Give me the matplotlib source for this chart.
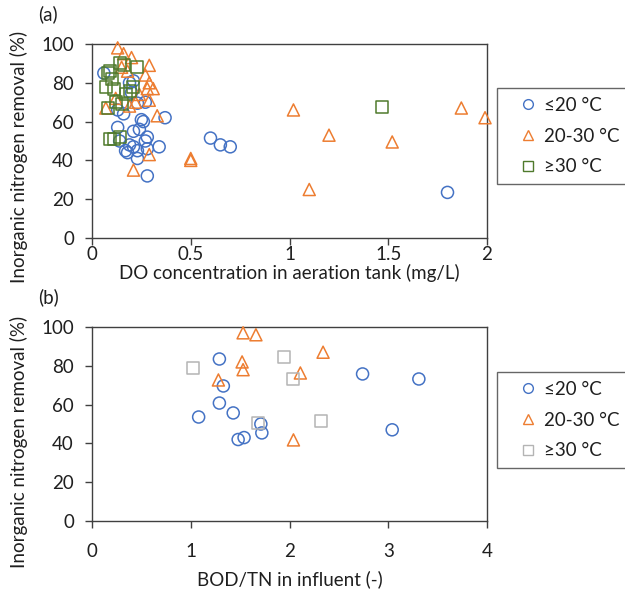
import matplotlib
matplotlib.use("Agg")
import matplotlib.pyplot as plt
from matplotlib.lines import Line2D
from matplotlib.legend_handler import HandlerLine2D

plt.rcParams['font.family'] = ['Lato', 'DejaVu Sans']

# ---- Panel (a): DO concentration vs inorganic nitrogen removal ----
do_low_x = [0.06, 0.19, 0.20, 0.27, 0.13, 0.16, 0.37, 0.25, 0.13, 0.24, 0.21, 0.28,
            0.14, 0.27, 0.19, 0.21, 0.34, 0.28, 0.23, 0.18, 0.23, 0.28, 0.60, 0.65,
            0.70, 1.80, 0.21, 0.23, 0.26, 0.17]
do_low_y = [85, 80, 75, 70, 66, 64, 62, 61, 57, 56, 55, 52,
            50, 50, 48, 47, 47, 46, 45, 44, 41, 32, 51.5, 48,
            47, 23.5, 81, 69.5, 60, 45]

do_mid_x = [0.13, 0.16, 0.20, 0.29, 0.27, 0.29, 0.28, 0.31, 0.29, 0.07, 0.19, 0.33,
            0.29, 0.21, 0.50, 0.50, 1.02, 1.20, 1.10, 1.52, 1.87, 1.99, 0.15, 0.18,
            0.24, 0.22, 0.12]
do_mid_y = [98, 95, 93, 89, 84, 80, 77, 77, 71, 67, 68, 63,
            43, 35, 41, 40, 66, 53, 25, 49.5, 67, 62, 88, 86,
            74, 70, 72]

do_high_x = [0.08, 0.09, 0.14, 0.16, 0.23, 0.10, 0.07, 0.11, 0.19, 0.21, 0.17, 0.12,
             0.15, 0.08, 0.09, 0.11, 0.14, 1.47]
do_high_y = [85, 86, 90, 89, 88, 82, 78, 77, 76, 78, 74, 70,
             69, 67, 51, 51, 52, 67.5]

# ---- Panel (b): influent BOD/TN vs inorganic nitrogen removal ----
bod_low_x = [1.29, 1.33, 1.29, 1.08, 1.43, 1.48, 1.54, 1.71, 1.72, 2.74, 3.31, 3.04]
bod_low_y = [83.5, 69.6, 60.8, 53.6, 55.7, 42.0, 43.0, 50.0, 45.4, 75.8, 73.2, 47.0]

bod_mid_x = [1.53, 1.66, 2.34, 1.52, 1.53, 1.28, 2.11, 2.04]
bod_mid_y = [97.0, 96.0, 87.0, 82.0, 78.0, 72.7, 76.3, 41.8]

bod_high_x = [1.02, 1.94, 2.04, 1.68, 2.32]
bod_high_y = [79.0, 84.5, 73.0, 50.5, 51.5]

groups = ['≤20 °C', '20-30 °C', '≥30 °C']

BLUE = '#4472C4'
ORANGE = '#ED7D31'
GREEN = '#4F7A2C'
GREY = '#B4B4B4'
TEXT = '#1F1F1F'
SPINE = '#404040'

W, H = 625, 591
fig = plt.figure(figsize=(W / 100, H / 100), dpi=100)

def px_rect(x0, y0, x1, y1):
    return [x0 / W, 1 - y1 / H, (x1 - x0) / W, (y1 - y0) / H]

ax_a = fig.add_axes(px_rect(92, 44, 487, 238))
ax_b = fig.add_axes(px_rect(92, 327, 487, 521))

ms = 75
lw = 1.1
FS = 13.5

def draw(ax, xs, ys, marker, color):
    ax.scatter(xs, ys, s=ms, marker=marker, facecolors='none',
               edgecolors=color, linewidths=lw, clip_on=False, zorder=3)

draw(ax_a, do_low_x, do_low_y, 'o', BLUE)
draw(ax_a, do_mid_x, do_mid_y, '^', ORANGE)
draw(ax_a, do_high_x, do_high_y, 's', GREEN)

draw(ax_b, bod_low_x, bod_low_y, 'o', BLUE)
draw(ax_b, bod_mid_x, bod_mid_y, '^', ORANGE)
draw(ax_b, bod_high_x, bod_high_y, 's', GREY)

for ax in (ax_a, ax_b):
    ax.set_ylim(0, 100)
    ax.set_yticks([0, 20, 40, 60, 80, 100])
    for sp in ax.spines.values():
        sp.set_color(SPINE)
        sp.set_linewidth(1.0)
    ax.tick_params(axis='both', direction='out', length=5, width=1.0,
                   color=SPINE, labelcolor=TEXT, labelsize=FS)
    ax.tick_params(axis='y', pad=8)
    ax.set_ylabel('Inorganic nitrogen removal (%)', fontsize=FS, color=TEXT)

ax_a.set_xlim(0, 2)
ax_a.set_xticks([0, 0.5, 1, 1.5, 2])
ax_a.set_xticklabels(['0', '0.5', '1', '1.5', '2'])
ax_a.tick_params(axis='x', pad=1)
ax_a.set_xlabel('DO concentration in aeration tank (mg/L)', fontsize=FS, color=TEXT)
ax_a.xaxis.set_label_coords(0.5, -0.182)
ax_a.yaxis.set_label_coords(-0.185, 0.42)

ax_b.set_xlim(0, 4)
ax_b.set_xticks([0, 1, 2, 3, 4])
ax_b.tick_params(axis='x', pad=11)
ax_b.set_xlabel('BOD/TN in influent (-)', fontsize=FS, color=TEXT)
ax_b.xaxis.set_label_coords(0.5, -0.30)
ax_b.yaxis.set_label_coords(-0.185, 0.41)

for ax in (ax_a, ax_b):
    ax.xaxis.label.set_verticalalignment('center')
    ax.yaxis.label.set_verticalalignment('center')

fig.text(38 / W, 1 - 14 / H, '(a)', fontsize=FS, color=TEXT, va='center', ha='left')
fig.text(38 / W, 1 - 297 / H, '(b)', fontsize=FS, color=TEXT, va='center', ha='left')

LEG_FS = 13.5

def legend(ax, colors, top_px):
    handles = [Line2D([], [], linestyle='none', marker=m, markersize=7,
                      markerfacecolor='none', markeredgecolor=c, markeredgewidth=1.0)
               for m, c in zip(['o', '^', 's'], colors)]
    leg = ax.legend(handles, groups, loc='upper left',
                    bbox_to_anchor=(497 / W, 1 - top_px / H),
                    bbox_transform=fig.transFigure, frameon=True, fancybox=False,
                    fontsize=LEG_FS, handlelength=1.71, handletextpad=0.32,
                    borderpad=0.48, labelspacing=0.73, borderaxespad=0,
                    handler_map={Line2D: HandlerLine2D(xpad=0.64)})
    frame = leg.get_frame()
    frame.set_edgecolor(SPINE)
    frame.set_linewidth(1.0)
    for t in leg.get_texts():
        t.set_color(TEXT)

legend(ax_a, [BLUE, ORANGE, GREEN], 88)
legend(ax_b, [BLUE, ORANGE, GREY], 372)

fig.savefig('out.png', dpi=100)
